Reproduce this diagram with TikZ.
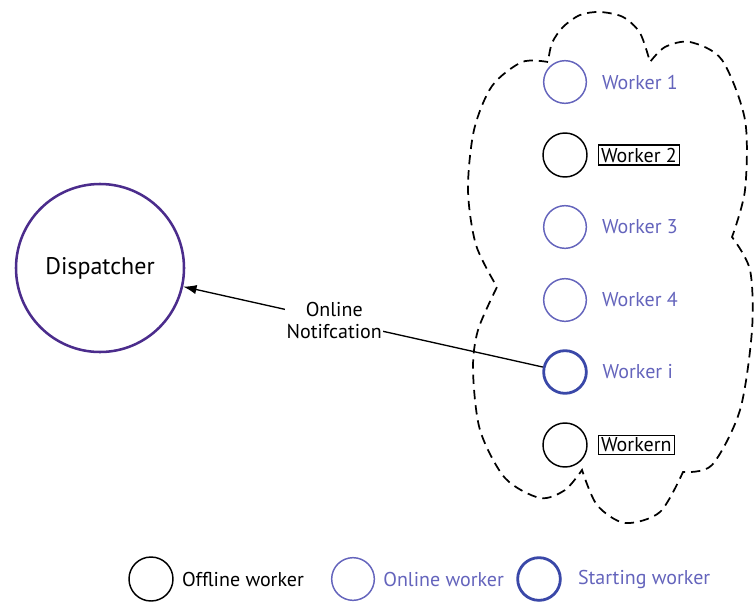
\documentclass[tikz,border=0pt]{standalone}
\usepackage{fontspec}
\setmainfont{PT Sans}
\usetikzlibrary{positioning,arrows.meta}
\definecolor{dispcol}{HTML}{4B2C8C}
\definecolor{oncol}{HTML}{6464BC}
\definecolor{startcol}{HTML}{3A48A8}
\begin{document}
\begin{tikzpicture}[x=0.75pt, y=-0.75pt,
  offline/.style={circle, draw=black, line width=1.1pt, minimum size=33pt, inner sep=0pt},
  online/.style={circle, draw=oncol, line width=1.1pt, minimum size=32pt, inner sep=0pt},
  starting/.style={circle, draw=startcol, line width=2.1pt, minimum size=32pt, inner sep=0pt},
  onlabel/.style={text=oncol, font=\fontsize{15}{17}\selectfont, inner sep=2pt},
  offlabel/.style={draw=black, line width=0.9pt, font=\fontsize{15}{17}\selectfont, inner sep=2pt},
  legtext/.style={font=\fontsize{15}{17}\selectfont, inner sep=1pt},
  cloud/.style={draw=black, line width=1.3pt, dash pattern=on 7pt off 4.5pt}]
  \useasboundingbox (0,0) rectangle (755,603);
  % dispatcher
  \node[circle, draw=dispcol, line width=1.9pt, minimum size=126pt,
        font=\fontsize{18}{20}\selectfont] (disp) at (100,268) {Dispatcher};
  % cloud of workers
  \draw[cloud]
    plot[smooth] coordinates {(548,62) (522,62) (492,86) (474,130) (468,190) (476,245) (497,287)}
    -- plot[smooth] coordinates {(497,287) (478,330) (473,370) (480,430) (505,478) (540,498) (565,490) (582,470)}
    -- plot[smooth] coordinates {(582,470) (597,505) (625,523) (660,512) (683,472)}
    -- plot[smooth] coordinates {(683,472) (712,465) (740,410) (752,330) (750,270) (732,237)}
    -- plot[smooth] coordinates {(732,237) (745,190) (745,120) (722,60) (690,42) (665,47) (650,62)}
    -- plot[smooth] coordinates {(650,62) (640,33) (623,17) (600,12) (580,15) (563,27) (552,43) (548,62)};
  % workers
  \node[online]   (w1) at (565,82)  {};
  \node[offline]  (w2) at (565,155) {};
  \node[online]   (w3) at (565,227) {};
  \node[online]   (w4) at (565,300) {};
  \node[starting] (wi) at (565,372) {};
  \node[offline]  (wn) at (565,445) {};
  \node[onlabel,  right=9pt of w1] (l1) {Worker 1};
  \node[offlabel, right=7.5pt of w2] (l2) {Worker 2};
  \node[onlabel,  right=9pt of w3] (l3) {Worker 3};
  \node[onlabel,  right=9pt of w4] (l4) {Worker 4};
  \node[onlabel,  right=9pt of wi] (li) {Worker i};
  \node[offlabel, right=7.5pt of wn] (ln) {Workern};
  % notification from the starting worker
  \draw[-{Latex[length=10pt, width=7pt]}, line width=1pt] (wi) --
    node[pos=0.58, fill=white, inner sep=1pt, align=center,
         font=\fontsize{15}{16}\selectfont] (note) {Online\\Notifcation} (disp);
  % legend
  \node[offline]  (kof) at (151,579) {};
  \node[online]   (kon) at (353,579) {};
  \node[starting] (kst) at (539,579) {};
  \node[legtext, right=5pt of kof] (tof) {Offline worker};
  \node[legtext, text=oncol, right=5pt of kon] (ton) {Online worker};
  \node[legtext, text=oncol, right=11pt of kst] (tst) {Starting worker};
\end{tikzpicture}
\end{document}
